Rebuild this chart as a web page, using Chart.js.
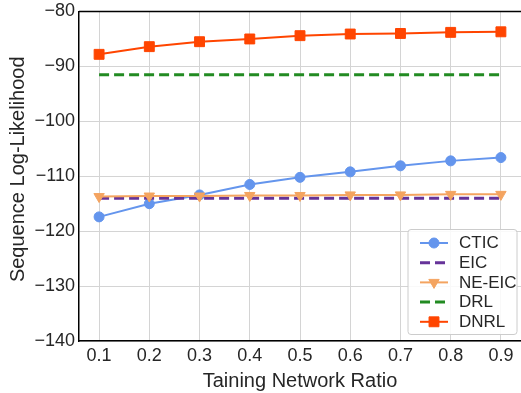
<!DOCTYPE html>
<html>
<head>
<meta charset="utf-8">
<script src="https://cdn.jsdelivr.net/npm/chart.js@4/dist/chart.umd.min.js"></script>
<style>
html,body{margin:0;padding:0;background:#fff;}
#wrap{width:521px;height:393px;position:relative;}
</style>
</head>
<body>
<div id="wrap"><canvas id="c" width="521" height="393"></canvas></div>
<script>
const ratios = [0.1, 0.2, 0.3, 0.4, 0.5, 0.6, 0.7, 0.8, 0.9];
const ctic   = [-117.4, -115.0, -113.4, -111.5, -110.2, -109.2, -108.1, -107.2, -106.6];
const eic    = [-114.0, -114.0, -114.0, -114.0, -114.0, -114.0, -114.0, -114.0, -114.0];
const neeic  = [-113.7, -113.6, -113.6, -113.5, -113.5, -113.4, -113.4, -113.3, -113.3];
const drl    = [-91.5, -91.5, -91.5, -91.5, -91.5, -91.5, -91.5, -91.5, -91.5];
const dnrl   = [-87.8, -86.4, -85.5, -85.0, -84.4, -84.1, -84.0, -83.8, -83.7];
const xTicks = [0.1, 0.2, 0.3, 0.4, 0.5, 0.6, 0.7, 0.8, 0.9];
const yTicks = [-140, -130, -120, -110, -100, -90, -80];
const xTitle = 'Taining Network Ratio';
const yTitle = 'Sequence Log-Likelihood';

const FONT = "'Liberation Sans', Arial, sans-serif";
const TXT = '#262626';
const pts = arr => arr.map((v, i) => ({x: ratios[i], y: v}));

const series = [
  {label: 'CTIC', data: ctic, color: '#6495ED', dash: [], style: 'circle', r: 5, rot: 0, lw: 2, order: 5},
  {label: 'EIC', data: eic, color: '#663399', dash: [10, 5], style: false, r: 0, rot: 0, lw: 3, order: 4},
  {label: 'NE-EIC', data: neeic, color: '#F4A460', dash: [], style: 'triangle', r: 6, rot: 180, lw: 2, order: 3},
  {label: 'DRL', data: drl, color: '#228B22', dash: [10, 5], style: false, r: 0, rot: 0, lw: 3, order: 2},
  {label: 'DNRL', data: dnrl, color: '#FF4500', dash: [], style: 'rect', r: 7, rot: 0, lw: 2, order: 1}
];

const datasets = series.map(s => ({
  label: s.label,
  data: pts(s.data),
  borderColor: s.color,
  backgroundColor: s.color,
  borderWidth: s.lw,
  borderDash: s.dash,
  pointStyle: s.style || 'circle',
  pointRadius: s.style ? s.r : 0,
  pointRotation: s.rot,
  pointBorderWidth: 1,
  pointBorderColor: s.color,
  pointBackgroundColor: s.color,
  tension: 0,
  fill: false,
  order: s.order
}));

function drawMarker(ctx, s, x, y) {
  ctx.save();
  ctx.fillStyle = s.color;
  ctx.strokeStyle = s.color;
  ctx.lineWidth = 1;
  ctx.setLineDash([]);
  ctx.beginPath();
  if (s.style === 'circle') {
    ctx.arc(x, y, s.r, 0, Math.PI * 2);
  } else if (s.style === 'rect') {
    const h = Math.SQRT1_2 * s.r;
    ctx.rect(x - h, y - h, 2 * h, 2 * h);
  } else if (s.style === 'triangle') {
    const r = s.r;
    for (let k = 0; k < 3; k++) {
      const a = Math.PI / 2 + k * 2 * Math.PI / 3;
      const px = x + Math.cos(a) * r, py = y + Math.sin(a) * r;
      if (k === 0) ctx.moveTo(px, py); else ctx.lineTo(px, py);
    }
    ctx.closePath();
  }
  ctx.fill();
  ctx.stroke();
  ctx.restore();
}

const frame = {
  id: 'frame',
  afterDraw(chart) {
    const {ctx, chartArea: a} = chart;
    ctx.save();
    ctx.strokeStyle = '#000';
    ctx.lineWidth = 1.5;
    ctx.beginPath();
    ctx.moveTo(a.left, a.top);
    ctx.lineTo(a.right, a.top);
    ctx.stroke();
    ctx.restore();

    // y-axis title
    ctx.save();
    ctx.font = '20px ' + FONT;
    ctx.fillStyle = TXT;
    ctx.textAlign = 'center';
    ctx.textBaseline = 'middle';
    ctx.translate(18, (a.top + a.bottom) / 2 - 7);
    ctx.rotate(-Math.PI / 2);
    ctx.fillText(yTitle, 0, 0);
    ctx.restore();

    // legend
    const rowH = 19.7;
    const w = 109, h = 105;
    const right = a.right - 4, bottom = a.bottom - 6.5;
    const left = right - w, top = bottom - h;
    ctx.save();
    ctx.beginPath();
    if (ctx.roundRect) ctx.roundRect(left, top, w, h, 3); else ctx.rect(left, top, w, h);
    ctx.fillStyle = 'rgba(255,255,255,0.85)';
    ctx.fill();
    ctx.strokeStyle = '#cccccc';
    ctx.lineWidth = 1;
    ctx.stroke();
    ctx.font = '17px ' + FONT;
    ctx.textBaseline = 'middle';
    ctx.textAlign = 'left';
    series.forEach((s, i) => {
      const y = top + 13.5 + i * rowH;
      const x0 = left + 12, x1 = left + 40;
      ctx.save();
      ctx.strokeStyle = s.color;
      ctx.lineWidth = s.lw;
      ctx.setLineDash(s.dash);
      ctx.beginPath();
      ctx.moveTo(x0, y);
      ctx.lineTo(x1, y);
      ctx.stroke();
      ctx.restore();
      if (s.style) drawMarker(ctx, s, (x0 + x1) / 2, y);
      ctx.fillStyle = TXT;
      ctx.fillText(s.label, left + 51, y + 0.5);
    });
    ctx.restore();
  }
};

new Chart(document.getElementById('c'), {
  type: 'line',
  data: {datasets},
  plugins: [frame],
  options: {
    responsive: false,
    animation: false,
    devicePixelRatio: 1,
    layout: {autoPadding: false, padding: {top: 11.5, right: 0, left: 0, bottom: 0}},
    plugins: {legend: {display: false}, tooltip: {enabled: false}},
    scales: {
      x: {
        type: 'linear',
        min: 0.06, max: 0.94,
        afterBuildTicks: sc => { sc.ticks = xTicks.map(v => ({value: v})); },
        afterFit: sc => { sc.height = 52; sc.paddingLeft = 0; sc.paddingRight = 0; },
        grid: {color: '#d4d4d4', lineWidth: 1, drawTicks: false},
        border: {color: '#000', width: 1.5},
        ticks: {
          color: TXT, font: {family: FONT, size: 18}, padding: 4,
          maxRotation: 0, autoSkip: false,
          callback: v => Number(v).toFixed(1)
        },
        title: {display: true, text: xTitle, color: TXT,
                font: {family: FONT, size: 20}, padding: {top: 0, bottom: 0}}
      },
      y: {
        type: 'linear',
        min: -140, max: -80,
        afterBuildTicks: sc => { sc.ticks = yTicks.map(v => ({value: v})); },
        afterFit: sc => { sc.width = 79; sc.paddingTop = 0; sc.paddingBottom = 0; },
        grid: {color: '#d4d4d4', lineWidth: 1, drawTicks: false},
        border: {color: '#000', width: 1.5},
        ticks: {
          color: TXT, font: {family: FONT, size: 18}, padding: 4,
          callback: v => String(v).replace('-', '\u2212')
        },
        title: {display: false}
      }
    }
  }
});
</script>
</body>
</html>
